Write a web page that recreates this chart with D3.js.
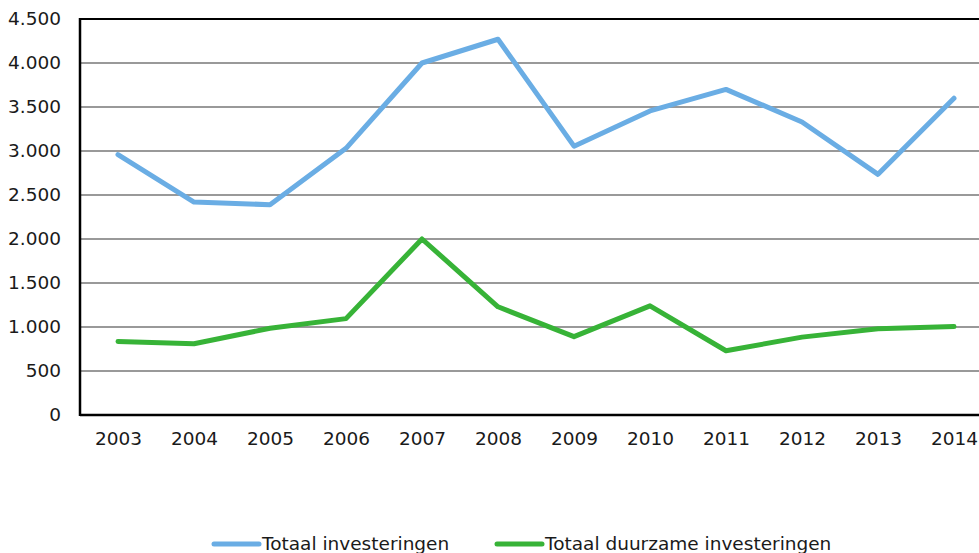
<!DOCTYPE html>
<html>
<head>
<meta charset="utf-8">
<script src="https://cdn.jsdelivr.net/npm/d3@7"></script>
<style>
  body { margin: 0; background: #fff; }
  svg { display: block; font-family: "DejaVu Sans", Verdana, sans-serif; }
</style>
</head>
<body>
<div id="chart"></div>
<script>
// values
var years = ["2003", "2004", "2005", "2006", "2007", "2008", "2009", "2010", "2011", "2012", "2013", "2014"];
var totaal = [2960, 2420, 2390, 3030, 4000, 4270, 3055, 3455, 3700, 3330, 2735, 3600];
var duurzaam = [835, 810, 985, 1095, 2000, 1230, 890, 1240, 730, 885, 980, 1005];
var yTicks = [0, 500, 1000, 1500, 2000, 2500, 3000, 3500, 4000, 4500];
var seriesNames = ["Totaal investeringen", "Totaal duurzame investeringen"];
var seriesColors = ["#6aade4", "#37b337"];

var W = 979, H = 553;
var margin = { top: 19, left: 80, bottom: 138 };
var fontSize = 18.5;

var svg = d3.select("#chart")
  .append("svg")
  .attr("width", W)
  .attr("height", H);

// x runs past the window edge, as in the reference
var x = d3.scalePoint()
  .domain(years)
  .range([margin.left, margin.left + 76 * 12])
  .padding(0.5);

var y = d3.scaleLinear()
  .domain([0, 4500])
  .range([H - margin.bottom, margin.top]);

// gridlines
svg.append("g")
  .selectAll("line")
  .data(yTicks.slice(1))
  .enter()
  .append("line")
  .attr("x1", margin.left)
  .attr("x2", W)
  .attr("y1", function(d) { return y(d); })
  .attr("y2", function(d) { return y(d); })
  .attr("stroke", function(d) { return d === 4500 ? "#000" : "#999"; })
  .attr("stroke-width", 2);

// y axis labels
var fmt = function(d) { return d3.format(",")(d).replace(/,/g, "."); };
var yAxis = svg.append("g")
  .attr("transform", "translate(" + margin.left + ",0)")
  .call(d3.axisLeft(y).tickValues(yTicks).tickFormat(fmt).tickSize(0).tickPadding(19));
yAxis.select(".domain").remove();
yAxis.selectAll("text")
  .attr("font-size", fontSize)
  .attr("font-family", "DejaVu Sans, Verdana, sans-serif")
  .attr("fill", "#1a1a1a");

// x axis
var xAxis = svg.append("g")
  .attr("transform", "translate(0," + y(0) + ")")
  .call(d3.axisBottom(x).tickSize(0).tickPadding(17));
xAxis.select(".domain").remove();
xAxis.selectAll("text")
  .attr("font-size", fontSize)
  .attr("font-family", "DejaVu Sans, Verdana, sans-serif")
  .attr("fill", "#1a1a1a");

// axis lines
svg.append("line")
  .attr("x1", margin.left).attr("x2", W)
  .attr("y1", y(0)).attr("y2", y(0))
  .attr("stroke", "#000").attr("stroke-width", 2.5);
svg.append("line")
  .attr("x1", margin.left).attr("x2", margin.left)
  .attr("y1", y(4500) - 1).attr("y2", y(0) + 1)
  .attr("stroke", "#000").attr("stroke-width", 2.5);

// lines
var line = d3.line()
  .x(function(d, i) { return x(years[i]); })
  .y(function(d) { return y(d); });

[totaal, duurzaam].forEach(function(s, i) {
  svg.append("path")
    .datum(s)
    .attr("d", line)
    .attr("fill", "none")
    .attr("stroke", seriesColors[i])
    .attr("stroke-width", 5)
    .attr("stroke-linejoin", "round")
    .attr("stroke-linecap", "round");
});

// legend
var legendX = [214, 497];
var legend = svg.append("g");
seriesNames.forEach(function(name, i) {
  legend.append("line")
    .attr("x1", legendX[i]).attr("x2", legendX[i] + 45)
    .attr("y1", 544).attr("y2", 544)
    .attr("stroke", seriesColors[i])
    .attr("stroke-width", 5)
    .attr("stroke-linecap", "round");
  legend.append("text")
    .attr("x", legendX[i] + 48)
    .attr("y", 550)
    .attr("font-size", fontSize)
    .attr("fill", "#1a1a1a")
    .text(name);
});
</script>
</body>
</html>
